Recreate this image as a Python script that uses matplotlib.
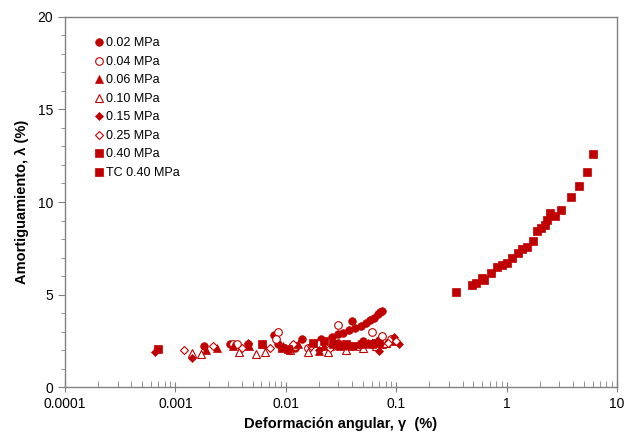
import matplotlib
matplotlib.use("Agg")
import matplotlib.pyplot as plt
from matplotlib.ticker import LogLocator, MultipleLocator, FixedFormatter, FixedLocator

plt.rcParams['font.family'] = ['Liberation Sans', 'DejaVu Sans']

red = '#c00000'

# 0.02 MPa
x002 = [0.0018, 0.0031, 0.0045, 0.0078, 0.0085, 0.012, 0.014, 0.021, 0.026, 0.030, 0.033, 0.037,
        0.040, 0.042, 0.048, 0.053, 0.058, 0.063, 0.068, 0.072, 0.075, 0.030, 0.050, 0.070]
y002 = [2.2, 2.35, 2.3, 2.8, 2.3, 2.1, 2.6, 2.6, 2.7, 2.85, 2.9, 3.1,
        3.55, 3.2, 3.3, 3.45, 3.6, 3.75, 3.95, 4.05, 4.1, 2.4, 2.5, 2.55]
# 0.04 MPa
x004 = [0.0033, 0.0036, 0.0085, 0.0082, 0.016, 0.027, 0.030, 0.045, 0.060, 0.075, 0.090, 0.012, 0.020]
y004 = [2.3, 2.35, 3.0, 2.6, 2.1, 2.2, 3.35, 2.2, 3.0, 2.75, 2.6, 2.2, 2.3]
# 0.06 MPa
x006 = [0.0019, 0.0024, 0.0033, 0.0046, 0.0062, 0.0095, 0.013, 0.020, 0.022, 0.030, 0.045, 0.060, 0.075, 0.095]
y006 = [2.0, 2.1, 2.2, 2.2, 2.3, 2.2, 2.3, 1.95, 2.2, 2.3, 2.35, 2.4, 2.3, 2.5]
# 0.10 MPa
x010 = [0.0014, 0.0017, 0.0038, 0.0054, 0.0065, 0.011, 0.016, 0.024, 0.035, 0.050, 0.065, 0.080]
y010 = [1.85, 1.8, 1.9, 1.8, 1.9, 2.0, 1.9, 1.9, 2.0, 2.1, 2.2, 2.4]
# 0.15 MPa
x015 = [0.00065, 0.0014, 0.0045, 0.0105, 0.020, 0.035, 0.055, 0.070, 0.095, 0.105]
y015 = [1.9, 1.55, 2.4, 2.0, 2.0, 2.2, 2.4, 1.95, 2.7, 2.35]
# 0.25 MPa
x025 = [0.0012, 0.0022, 0.0040, 0.0072, 0.0115, 0.017, 0.025, 0.040, 0.060, 0.085, 0.100]
y025 = [2.0, 2.2, 2.1, 2.1, 2.3, 2.2, 2.1, 2.2, 2.3, 2.4, 2.5]
# 0.40 MPa (resonant column, large strain)
x040 = [0.346, 0.483, 0.528, 0.595, 0.63, 0.718, 0.813, 0.90, 1.0, 1.13, 1.28, 1.37, 1.54, 1.75,
        1.87, 2.04, 2.22, 2.34, 2.47, 2.74, 3.09, 3.80, 4.56, 5.32, 6.10]
y040 = [5.15, 5.51, 5.64, 5.87, 5.78, 6.15, 6.47, 6.6, 6.72, 6.95, 7.23, 7.44, 7.58, 7.91,
        8.45, 8.58, 8.76, 9.03, 9.39, 9.24, 9.57, 10.29, 10.86, 11.6, 12.6]
# TC 0.40 MPa
xtc = [0.0007, 0.0061, 0.0092, 0.0105, 0.0175, 0.022, 0.027, 0.031, 0.035, 0.040, 0.050, 0.060, 0.065]
ytc = [2.05, 2.35, 2.1, 2.05, 2.4, 2.5, 2.3, 2.2, 2.35, 2.2, 2.3, 2.35, 2.4]

series = [
    (x002, y002, 'o', True, '0.02 MPa'),
    (x004, y004, 'o', False, '0.04 MPa'),
    (x006, y006, '^', True, '0.06 MPa'),
    (x010, y010, '^', False, '0.10 MPa'),
    (x015, y015, 'D', True, '0.15 MPa'),
    (x025, y025, 'D', False, '0.25 MPa'),
    (x040, y040, 's', True, '0.40 MPa'),
    (xtc, ytc, 's', True, 'TC 0.40 MPa'),
]

fig = plt.figure(figsize=(6.29, 4.41), dpi=100)
ax = fig.add_axes([0.1033, 0.1224, 0.8777, 0.8391])

for x, y, m, filled, lab in series:
    ms = 5.5 if m != 'D' else 4.2
    ax.plot(x, y, linestyle='none', marker=m, markersize=ms,
            markerfacecolor=red if filled else 'white',
            markeredgecolor=red, markeredgewidth=0.8 if not filled else 0.5,
            label=lab)

ax.set_xscale('log')
ax.set_xlim(0.0001, 10)
ax.set_ylim(0, 20)

ax.xaxis.set_major_locator(FixedLocator([0.0001, 0.001, 0.01, 0.1, 1, 10]))
ax.xaxis.set_major_formatter(FixedFormatter(['0.0001', '0.001', '0.01', '0.1', '1', '10']))
ax.xaxis.set_minor_locator(LogLocator(base=10, subs=range(2, 10), numticks=20))
ax.yaxis.set_major_locator(MultipleLocator(5))
ax.yaxis.set_minor_locator(MultipleLocator(1))

spine_col = '#808080'
for s in ax.spines.values():
    s.set_color(spine_col)
    s.set_linewidth(1.0)

ax.tick_params(axis='x', which='major', direction='inout', length=7, color=spine_col,
               labelsize=10, pad=4)
ax.tick_params(axis='x', which='minor', direction='in', length=4, color=spine_col)
ax.tick_params(axis='y', which='major', direction='out', length=5, color=spine_col,
               labelsize=10)
ax.tick_params(axis='y', which='minor', direction='out', length=3, color=spine_col)

ax.set_xlabel('Deformación angular, γ  (%)', fontsize=10.5, fontweight='bold', labelpad=4)
ax.set_ylabel('Amortiguamiento, λ (%)', fontsize=10.5, fontweight='bold', labelpad=6)

leg = ax.legend(loc='upper left', bbox_to_anchor=(0.042, 0.965), frameon=False,
                fontsize=9, handlelength=0.6, handletextpad=0.2, labelspacing=0.52,
                borderaxespad=0.2)

fig.savefig('out.png', dpi=100)
